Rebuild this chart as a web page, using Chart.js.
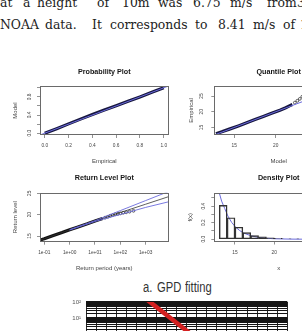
<!DOCTYPE html>
<html><head><meta charset="utf-8">
<script src="https://cdn.jsdelivr.net/npm/chart.js@4/dist/chart.umd.min.js"></script>
<style>
html,body{margin:0;padding:0;background:#fff;width:302px;height:331px;overflow:hidden;position:relative}
canvas{position:absolute}
.w{position:absolute;font-family:"DejaVu Serif";font-size:12.4px;line-height:12.4px;color:#222;white-space:nowrap}
.cap{position:absolute;font-family:"Liberation Sans";font-size:14px;line-height:14px;color:#333;white-space:nowrap;transform:scaleX(0.8);transform-origin:0 0}
</style></head><body>
<div id="txt"></div>
<canvas id="c1"></canvas><canvas id="c2"></canvas><canvas id="c3"></canvas><canvas id="c4"></canvas><canvas id="c5"></canvas>
<script>
// ================= DATA =================
// Probability plot
const probEmpirical = [0.0,0.1,0.2,0.3,0.4,0.5,0.6,0.7,0.8,0.9,1.0];
const probModel     = [0.0,0.1,0.205,0.31,0.41,0.51,0.605,0.705,0.80,0.90,1.0];
const probRef = [-0.1, 1.1];
const probXTicks = [0,0.2,0.4,0.6,0.8,1.0];
const probXTickLabels = ['0.0','0.2','0.4','0.6','0.8','1.0'];
const probYTicks = [0,0.2,0.4,0.6,0.8,1.0];
const probYTickLabels = ['0.0','','0.4','','0.8',''];

// Quantile plot
const quantModel     = [12.8,13.5,14.5,15.5,16.5,17.5,18.5,19.5,20.5,21.2,21.7,22.0];
const quantEmpirical = [13.0,13.6,14.55,15.5,16.5,17.5,18.5,19.5,20.5,21.3,21.95,22.3];
const quantTailModel     = [22.3,22.6,22.9,23.2,23.7,24.4,25.5,27.6];
const quantTailEmpirical = [22.9,23.5,24.1,24.8,25.3,25.9,26.6,27.6];
const quantRef = [12, 29];
const quantXTicks = [15,20,25];
const quantXTickLabels = ['15','20','25'];
const quantYTicks = [15,20,25];
const quantYTickLabels = ['15','20','25'];

// Return level plot
const rlEmpPeriod = [0.068,0.1,0.2,0.5,1,2,5,10,15,20];
const rlEmpLevel  = [14.05,14.35,15.0,15.8,16.45,17.05,17.85,18.5,18.85,19.1];
const rlPtPeriod = [25,32,40,50,63,80,100,130,170,230,330];
const rlPtLevel  = [19.3,19.5,19.75,19.9,20.1,20.2,20.3,20.45,20.55,20.7,20.9];
const rlFitPeriod = [0.068,0.1,1,10,100,1000,7900];
const rlFitLevel  = [14.05,14.35,16.45,18.5,20.5,22.45,24.2];
const rlUpPeriod = [1,10,100,1000,7900];
const rlUpLevel  = [16.5,18.6,20.95,23.3,25.4];
const rlLoPeriod = [1,10,100,1000,7900];
const rlLoLevel  = [16.4,18.4,20.05,21.7,23.0];
const rlXTicks = [0.1,1,10,100,1000];
const rlXTickLabels = ['1e-01','1e+00','1e+01','1e+02','1e+03'];
const rlYTicks = [15,20,25];
const rlYTickLabels = ['15','20','25'];

// Density plot
const densBinCenters = [13.5,14.5,15.5,16.5,17.5,18.5,19.5,20.5,21.5,22.5,23.5,24.5,25.5,26.5,27.5];
const densHeights    = [0.41,0.26,0.145,0.08,0.045,0.03,0.018,0.01,0.006,0.004,0.003,0.002,0.001,0.001,0.001];
const densCurveX = [12.97,13.3,13.7,14.1,14.6,15.1,15.6,16.1,17.1,18,19,20,22,24,26,28.5];
const densCurveY = [0.57,0.46,0.37,0.28,0.2,0.145,0.105,0.075,0.04,0.022,0.012,0.006,0.002,0.0007,0.0002,0];
const densXTicks = [15,20,25];
const densXTickLabels = ['15','20','25'];
const densYTicks = [0,0.1,0.2,0.3,0.4,0.5];
const densYTickLabels = ['0.0','','0.2','','0.4',''];

// Bottom (partial) chart
const bottomX = [5.8, 10.0, 12.0];
const bottomY = [188, 1.6, 0.167];
const bottomXGrid = [0,1,2,3,4,5,6,7,8,9,10,11,12,13,14,15,16,17,18,19,20];
const bottomDecades = [0.001,0.01,0.1,1,10,100];
const bottomDecadeLabels = ['10\u207B\u00B3','10\u207B\u00B2','10\u207B\u00B9','10\u2070','10\u00B9','10\u00B2'];
const bottomMinorMult = [1,2,3,4,5,6,7,8,9];

// ================= TEXT =================
const line1Words = ['at','a','height','of','10m','was','6.75','m/s','from','35'];
const line1X = [0,23,37,97,122,158,193,230,267,297];
const line2Words = ['NOAA','data.','It','corresponds','to','8.41','m/s','of','10'];
const line2X = [0,45,92,110,195,218,253,283,300];
const txt = document.getElementById('txt');
function addWords(words, xs, top){
  words.forEach((w,i)=>{ const s=document.createElement('span'); s.className='w'; s.textContent=w; s.style.left=xs[i]+'px'; s.style.top=top+'px'; txt.appendChild(s); });
}
addWords(line1Words, line1X, -3.2);
addWords(line2Words, line2X, 18.8);
const capWords = ['a.','GPD','fitting'];
const capX = [142.7,156.7,185];
capWords.forEach((w,i)=>{ const s=document.createElement('span'); s.className='cap'; s.textContent=w; s.style.left=capX[i]+'px'; s.style.top='280px'; txt.appendChild(s); });

// ================= R-STYLE PLOTS =================
const FAM = 'Liberation Sans';
const TICK_FONT = {family:FAM, size:4.8};
const LAB_FONT = {family:FAM, size:6};
const TITLE_FONT = {family:FAM, size:7.2, weight:'bold'};
const TL = 3;
const boxPlugin = { id:'rbox', afterDatasetsDraw(chart){ const {ctx, chartArea:ca} = chart; ctx.save(); ctx.strokeStyle='#6a6a6a'; ctx.lineWidth=1; ctx.strokeRect(Math.round(ca.left)+0.5, Math.round(ca.top)+0.5, Math.round(ca.right-ca.left)-1, Math.round(ca.bottom-ca.top)-1); ctx.restore(); } };
function measure(font, labels){ const c=document.createElement('canvas').getContext('2d'); c.font = font.size+'px "'+font.family+'"'; return Math.max(0,...labels.filter(Boolean).map(l=>c.measureText(l).width)); }
function pts(xs, ys){ return xs.map((x,i)=>({x, y:ys[i]})); }
function labelFor(ticks, labels){ return v => { const k = ticks.findIndex(t => Math.abs(t - v) <= 1e-6*Math.max(1e-9, Math.abs(t)) || (t===0 && Math.abs(v)<1e-9)); return k>=0 ? labels[k] : ''; }; }

function rPlot(id, g, baseType, datasets, xs, ys, title){
  const cv = document.getElementById(id);
  cv.width = g.w; cv.height = g.h; cv.style.left = g.x+'px'; cv.style.top = g.y+'px';
  const tLH = TITLE_FONT.size*1.2;
  const a = (g.titleY - g.y) - tLH/2;
  const b = (g.box[1] - g.y) - a - tLH;
  const yW = g.box[0] - g.x;
  const xH = (g.y + g.h) - g.box[3];
  const padR = (g.x + g.w) - g.box[2];
  const lLH = LAB_FONT.size*1.2;
  const widest = measure(TICK_FONT, ys.labels);
  const ytPad = (g.box[0] - g.ytX) - TL - widest/2;
  const xtPad = (g.xtY - g.box[3]) - TL - TICK_FONT.size*1.2/2;
  const xTitlePadB = (g.y + g.h) - g.xlabY - lLH/2;
  const yTitlePadT = (g.ylabX - g.x) - lLH/2;
  const grid = {drawOnChartArea:false, drawTicks:true, tickLength:TL, tickColor:'#777', tickWidth:0.8, offset:false};
  return new Chart(cv, {
    type: baseType,
    data: {datasets},
    plugins: [boxPlugin],
    options: {
      responsive:false, animation:false, devicePixelRatio:1,
      layout:{padding:{left:0, top:0, right:padR, bottom:0}},
      plugins:{ legend:{display:false}, tooltip:{enabled:false},
        title:{display:true, fullSize:false, text:title, font:TITLE_FONT, color:'#151515', padding:{top:a, bottom:b}} },
      scales:{
        x:{ type:xs.type, min:xs.min, max:xs.max, bounds:'data', offset:false,
          afterBuildTicks: s => { s.ticks = xs.ticks.map(v=>({value:v})); },
          afterFit: s => { s.height = xH; },
          ticks:{ autoSkip:false, minRotation:0, maxRotation:0, font:TICK_FONT, color:'#444', padding:xtPad, callback:labelFor(xs.ticks, xs.labels) },
          grid, border:{display:false},
          title:{ display:true, text:xs.title, font:LAB_FONT, color:'#444', padding:{top:0, bottom:xTitlePadB} } },
        y:{ type:ys.type, min:ys.min, max:ys.max, bounds:'data',
          afterBuildTicks: s => { s.ticks = ys.ticks.map(v=>({value:v})); },
          afterFit: s => { s.width = yW; },
          ticks:{ autoSkip:false, minRotation:90, maxRotation:90, crossAlign:'center', font:TICK_FONT, color:'#444', padding:ytPad, callback:labelFor(ys.ticks, ys.labels) },
          grid, border:{display:false},
          title:{ display:true, text:ys.title, font:LAB_FONT, color:'#444', padding:{top:yTitlePadT, bottom:0} } }
      }
    }
  });
}

const BLUE = '#6b6bdc';
const DARK = '#17173f';

// 1. Probability plot
rPlot('c1', {x:0, y:62, w:182, h:110, box:[40,86,168.5,135], titleY:71.7, xtY:146, xlabY:161.7, ytX:30, ylabX:15}, 'line', [
  {data: pts(probRef, probRef), borderColor:BLUE, borderWidth:1, pointRadius:0},
  {data: pts(probEmpirical, probModel), borderColor:DARK, borderWidth:3.2, pointRadius:0}
], {type:'linear', min:-0.04, max:1.04, ticks:probXTicks, labels:probXTickLabels, title:'Empirical'},
   {type:'linear', min:-0.04, max:1.04, ticks:probYTicks, labels:probYTickLabels, title:'Model'}, 'Probability Plot');

// 2. Quantile plot
rPlot('c2', {x:180, y:62, w:180, h:110, box:[214.3,86,343,135], titleY:71.7, xtY:146, xlabY:161.7, ytX:201.7, ylabX:191}, 'line', [
  {data: pts(quantRef, quantRef), borderColor:BLUE, borderWidth:1, pointRadius:0},
  {data: pts(quantModel, quantEmpirical), borderColor:DARK, borderWidth:3.2, pointRadius:0},
  {data: pts(quantTailModel, quantTailEmpirical), showLine:false, pointRadius:1.4, pointBorderWidth:0.7, pointBorderColor:'#222', pointBackgroundColor:'rgba(0,0,0,0)'}
], {type:'linear', min:12.6, max:28.1, ticks:quantXTicks, labels:quantXTickLabels, title:'Model'},
   {type:'linear', min:12.6, max:28.2, ticks:quantYTicks, labels:quantYTickLabels, title:'Empirical'}, 'Quantile Plot');

// 3. Return level plot
rPlot('c3', {x:0, y:168, w:182, h:110, box:[40,192.7,168.5,241.7], titleY:178.3, xtY:252.3, xlabY:268, ytX:30, ylabX:15}, 'line', [
  {data: pts(rlUpPeriod, rlUpLevel), borderColor:BLUE, borderWidth:0.9, pointRadius:0},
  {data: pts(rlLoPeriod, rlLoLevel), borderColor:BLUE, borderWidth:0.9, pointRadius:0},
  {data: pts(rlFitPeriod, rlFitLevel), borderColor:'#333', borderWidth:0.8, pointRadius:0},
  {data: pts(rlEmpPeriod, rlEmpLevel), borderColor:'#111', borderWidth:3.2, pointRadius:0},
  {data: pts(rlPtPeriod, rlPtLevel), showLine:false, pointRadius:1.4, pointBorderWidth:0.7, pointBorderColor:'#222', pointBackgroundColor:'rgba(0,0,0,0)'}
], {type:'logarithmic', min:0.0676, max:7943, ticks:rlXTicks, labels:rlXTickLabels, title:'Return period (years)'},
   {type:'linear', min:13.67, max:25.14, ticks:rlYTicks, labels:rlYTickLabels, title:'Return level'}, 'Return Level Plot');

// 4. Density plot
rPlot('c4', {x:180, y:168, w:180, h:110, box:[214.3,193,343,241.5], titleY:178.3, xtY:252.7, xlabY:268, ytX:203.3, ylabX:190}, 'bar', [
  {type:'bar', data: pts(densBinCenters, densHeights), backgroundColor:'rgba(0,0,0,0)', borderColor:'#333', borderWidth:0.8, borderSkipped:false, barPercentage:1, categoryPercentage:1, grouped:false},
  {type:'line', data: pts(densCurveX, densCurveY), borderColor:BLUE, borderWidth:1, pointRadius:0}
], {type:'linear', min:12.37, max:28.74, ticks:densXTicks, labels:densXTickLabels, title:'x'},
   {type:'linear', min:-0.027, max:0.558, ticks:densYTicks, labels:densYTickLabels, title:'f(x)'}, 'Density Plot');

// 5. Bottom partial log chart
(function(){
  const cv = document.getElementById('c5');
  cv.width = 302; cv.height = 150; cv.style.left = '0px'; cv.style.top = '290px';
  const yTicks = [];
  bottomDecades.forEach(d => {
    if (d === 100) { yTicks.push({value:d, major:true}); return; }
    bottomMinorMult.forEach(m => yTicks.push({value:d*m, major:m===1}));
  });
  new Chart(cv, {
    type:'line',
    data:{datasets:[{data: pts(bottomX, bottomY), borderColor:'#d42020', borderWidth:4.5, pointRadius:0}]},
    options:{
      responsive:false, animation:false, devicePixelRatio:1,
      layout:{padding:{left:0, top:12, right:302-287.3, bottom:0}},
      plugins:{legend:{display:false}, tooltip:{enabled:false}},
      scales:{
        x:{ type:'linear', min:0, max:20, bounds:'data',
          afterBuildTicks: s => { s.ticks = bottomXGrid.map(v=>({value:v})); },
          afterFit: s => { s.height = 150 - 12 - 80; },
          ticks:{display:false}, grid:{color:'#2a2a2a', lineWidth:1, drawTicks:false}, border:{display:false} },
        y:{ type:'logarithmic', min:0.001, max:100, bounds:'data',
          afterBuildTicks: s => { s.ticks = yTicks.slice(); },
          afterFit: s => { s.width = 86; },
          ticks:{ autoSkip:false, font:{family:FAM, size:6}, color:'#555', padding:5,
            callback:(v)=>{ const k = bottomDecades.findIndex(d=>Math.abs(d-v)/d<1e-6); return k>=0 ? bottomDecadeLabels[k] : ''; } },
          grid:{ color:'#151515', lineWidth: c => (c.tick && c.tick.major) ? 2 : 1, drawTicks:false },
          border:{display:false} }
      }
    }
  });
})();
</script>
</body></html>
